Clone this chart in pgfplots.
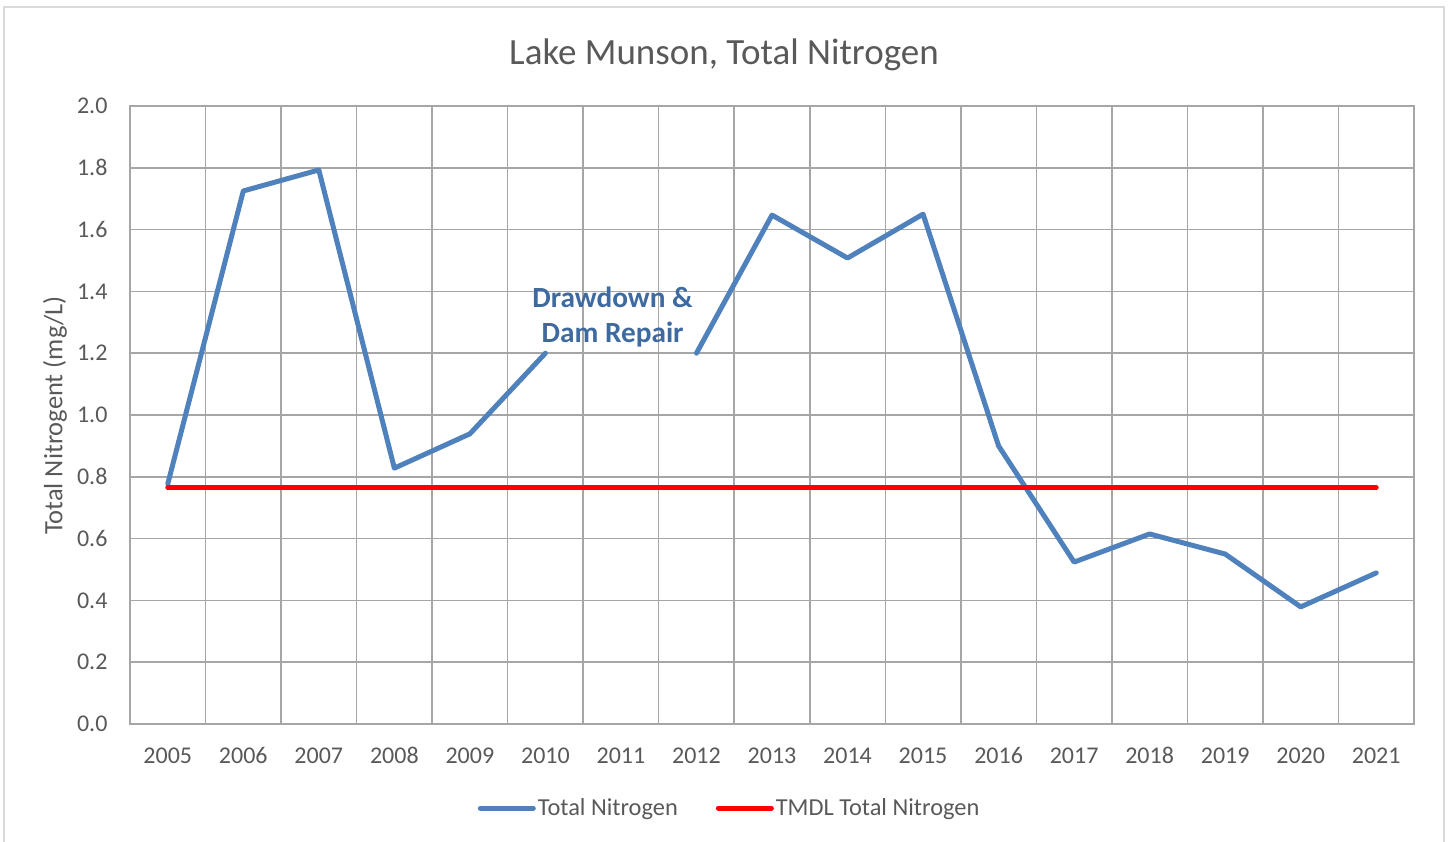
\documentclass[border=0pt]{standalone}
\usepackage{pgfplots}
\pgfplotsset{compat=1.18}
\usepackage{fontspec}
\setmainfont{Carlito}
\definecolor{tnblue}{HTML}{4F81BD}
\definecolor{txtgray}{HTML}{595959}
\definecolor{gridgray}{HTML}{A6A6A6}
\definecolor{annblue}{HTML}{3E6AA0}
\definecolor{bordergray}{HTML}{D9D9D9}
\begin{document}
\begin{tikzpicture}[x=1pt,y=1pt]
\useasboundingbox (0,0) rectangle (1450,841);
\draw[bordergray, line width=1.5pt] (4,-5) -- (4,834) -- (1444,834) -- (1444,-5);
\node[text=txtgray, font=\fontsize{37}{44}\selectfont] at (724,786) {Lake Munson, Total Nitrogen};
\node[text=txtgray, font=\fontsize{26.5}{32}\selectfont, rotate=90] at (55,425.5) {Total Nitrogent (mg/L)};
\begin{axis}[
  at={(130pt,117pt)}, anchor=south west, scale only axis,
  width=1284pt, height=618pt,
  xmin=-0.5, xmax=16.5, ymin=0, ymax=2,
  xtick={0,1,2,3,4,5,6,7,8,9,10,11,12,13,14,15,16},
  xticklabels={2005,2006,2007,2008,2009,2010,2011,2012,2013,2014,2015,2016,2017,2018,2019,2020,2021},
  minor xtick={-0.5,0.5,1.5,2.5,3.5,4.5,5.5,6.5,7.5,8.5,9.5,10.5,11.5,12.5,13.5,14.5,15.5,16.5},
  ytick={0,0.2,0.4,0.6,0.8,1.0,1.2,1.4,1.6,1.8,2.0},
  xminorgrids, ymajorgrids,
  major tick length=0pt, minor tick length=0pt,
  axis line style={gridgray, line width=1.5pt},
  grid style={gridgray, line width=1.5pt},
  minor grid style={gridgray, line width=1.5pt},
  tick label style={font=\fontsize{24}{29}\selectfont, text=txtgray},
  /pgf/number format/assume math mode=true,
  yticklabel style={/pgf/number format/fixed, /pgf/number format/precision=1, /pgf/number format/fixed zerofill, xshift=-19pt},
  xticklabel style={anchor=base, yshift=-39pt},
  unbounded coords=jump,
  clip=false,
  legend columns=2,
  legend style={at={(0.4670,-0.136)}, anchor=center, draw=none, fill=none,
    font=\fontsize{24.4}{29}\selectfont, text=txtgray,
    /tikz/every even column/.append style={column sep=36pt},
    inner sep=0pt},
  legend image code/.code={\draw[#1, line cap=round] (0pt,0pt) -- (53pt,0pt);},
]
\addplot[tnblue, line width=5pt, line join=round, line cap=round] coordinates {
 (0,0.777) (1,1.725) (2,1.793) (3,0.828) (4,0.939) (5,1.20) (6,nan) (7,1.20)
 (8,1.647) (9,1.508) (10,1.650) (11,0.90) (12,0.524) (13,0.615) (14,0.55) (15,0.379) (16,0.489)
};
\addlegendentry{Total Nitrogen}
\addplot[red, line width=5pt, line cap=round] coordinates {(0,0.765) (16,0.765)};
\addlegendentry{TMDL Total Nitrogen}
\node[text=annblue, font=\bfseries\fontsize{29.3}{35}\selectfont, align=center] at (axis cs:5.89,1.3155) {Drawdown \&\\Dam Repair};
\end{axis}
\end{tikzpicture}
\end{document}
